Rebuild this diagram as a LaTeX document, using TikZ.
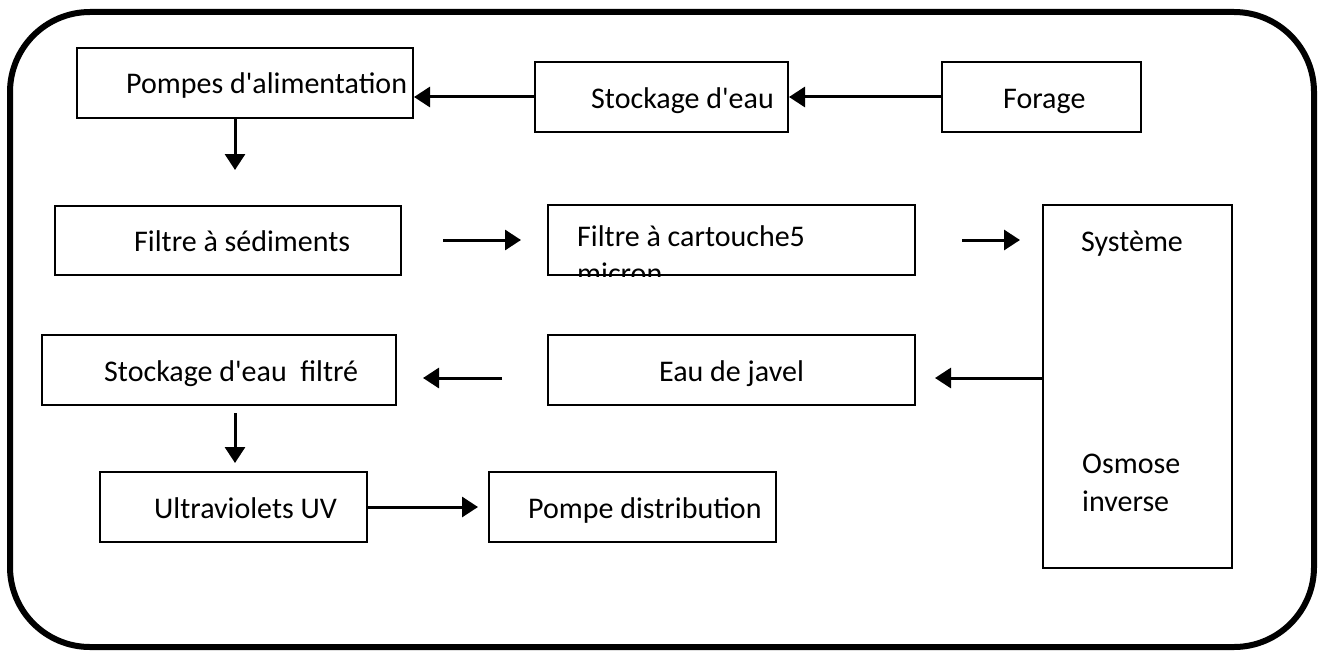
\documentclass[tikz,border=0pt]{standalone}
\usepackage{fontspec}
\setmainfont{Carlito}
\usetikzlibrary{arrows.meta}
\newcommand{\aq}{\textquotesingle}
\begin{document}
\begin{tikzpicture}[x=1pt,y=-1pt,
  box/.style={draw=black,line width=2pt,rectangle,inner sep=0pt},
  txt/.style={anchor=base west,inner sep=0pt,font=\fontsize{30}{36}\selectfont},
  arr/.style={line width=3pt,-{Triangle[length=16pt,width=20pt]}},
  outer/.style={draw=black,line width=6pt,rounded corners=80pt}]
\useasboundingbox (0,0) rectangle (1324,650);
\draw[outer] (10,12) rectangle (1314,647);
% boxes
\node[box,minimum width=336pt,minimum height=70pt] (pompes) at (245,83) {};
\node[box,minimum width=253pt,minimum height=70pt] (stock) at (661.5,97) {};
\node[box,minimum width=199pt,minimum height=70pt] (forage) at (1041.5,97) {};
\node[box,minimum width=346pt,minimum height=69pt] (sed) at (228,240.5) {};
\node[box,minimum width=367pt,minimum height=70pt] (cart) at (731.5,240) {};
\node[box,minimum width=189pt,minimum height=363pt] (sys) at (1137.5,386.5) {};
\node[box,minimum width=354pt,minimum height=70pt] (filt) at (219,370) {};
\node[box,minimum width=367pt,minimum height=70pt] (javel) at (731.5,370) {};
\node[box,minimum width=267pt,minimum height=70pt] (uv) at (233.5,507) {};
\node[box,minimum width=287pt,minimum height=70pt] (dist) at (632.5,507) {};
% texts
\node[txt] (tpompes) at (126,94) {Pompes d\aq alimentation};
\node[txt] (tstock) at (591,109) {Stockage d\aq eau};
\node[txt] (tforage) at (1003,109) {Forage};
\node[txt] (tsed) at (134,251) {Filtre à sédiments};
\begin{scope}
\clip (cart.south west) rectangle (cart.north east);
\node[txt] (tcart) at (577,246) {Filtre à cartouche5};
\node[txt] (tmicron) at (577,283) {micron};
\end{scope}
\node[txt] (tsys) at (1081,251) {Système};
\node[txt] (tosm) at (1082,473) {Osmose};
\node[txt] (tinv) at (1082,511) {inverse};
\node[txt] (tfilt) at (104,381) {Stockage d\aq eau\ \ filtré};
\node[txt] (tjavel) at (659,381) {Eau de javel};
\node[txt] (tuv) at (154,518) {Ultraviolets UV};
\node[txt] (tdist) at (528,518) {Pompe distribution};
% arrows
\coordinate (a1) at (235,170);
\coordinate (b1s) at (443,240);
\coordinate (b1e) at (521,240);
\coordinate (b2s) at (962,240);
\coordinate (b2e) at (1020,240);
\coordinate (c1e) at (935,378);
\coordinate (c2s) at (502,378);
\coordinate (c2e) at (423,378);
\coordinate (d1s) at (235,413);
\coordinate (d1e) at (235,463);
\coordinate (e1e) at (478,507);
\draw[arr] (stock.west) -- (pompes.east|-stock.west);
\draw[arr] (forage.west) -- (stock.east);
\draw[arr] (pompes.south-|a1) -- (a1);
\draw[arr] (b1s) -- (b1e);
\draw[arr] (b2s) -- (b2e);
\draw[arr] (sys.west|-c1e) -- (c1e);
\draw[arr] (c2s) -- (c2e);
\draw[arr] (d1s) -- (d1e);
\draw[arr] (uv.east) -- (e1e);
\end{tikzpicture}
\end{document}
